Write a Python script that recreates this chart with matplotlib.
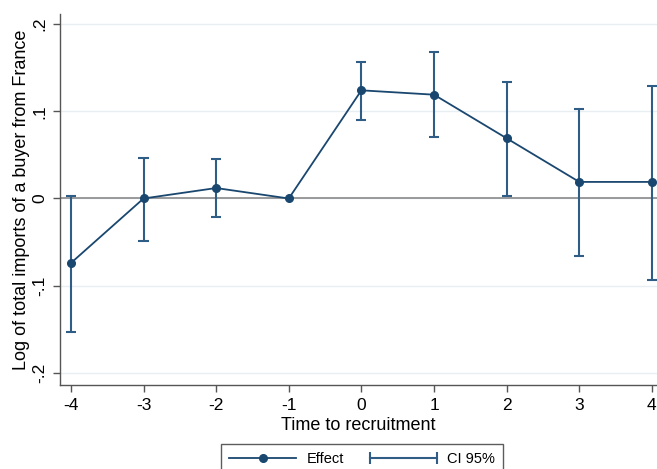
import numpy as np
import matplotlib
matplotlib.use('Agg')
import matplotlib.pyplot as plt
from matplotlib.lines import Line2D
from matplotlib.legend_handler import HandlerLine2D

plt.rcParams['font.family'] = ['Liberation Sans', 'DejaVu Sans']

# event-study estimates
periods = [-4, -3, -2, -1, 0, 1, 2, 3, 4]
effect = [-0.074, 0.0, 0.012, 0.0, 0.124, 0.119, 0.069, 0.019, 0.019]
ci_low = [-0.153, -0.049, -0.021, 0.0, 0.090, 0.070, 0.003, -0.066, -0.093]
ci_high = [0.003, 0.046, 0.045, 0.0, 0.156, 0.168, 0.134, 0.103, 0.129]
yticks = [-0.2, -0.1, 0, 0.1, 0.2]
ytick_labels = ['-.2', '-.1', '0', '.1', '.2']

navy = '#1a476f'
ci_col = '#2f5d86'

fig = plt.figure(figsize=(6.57, 4.69), dpi=100)
fig.patch.set_facecolor('white')
ax = fig.add_axes([60/657, 1-385/469, 1-60/657, (385-14)/469])

for y in yticks:
    ax.axhline(y, color='#e8eff2', lw=1.0, zorder=0)
ax.axhline(0, color='#8a8a8a', lw=1.2, zorder=1)

idx = [i for i in range(len(periods)) if ci_high[i] != ci_low[i]]
x_ci = np.array(periods)[idx]
lo = np.array(ci_low)[idx]
hi = np.array(ci_high)[idx]
ax.vlines(x_ci, lo, hi, color=ci_col, lw=1.5, zorder=2)
ax.hlines(lo, x_ci-0.07, x_ci+0.07, color=ci_col, lw=1.5, zorder=2)
ax.hlines(hi, x_ci-0.07, x_ci+0.07, color=ci_col, lw=1.5, zorder=2)

ax.plot(periods, effect, color=navy, lw=1.3, marker='o', markersize=5.5, zorder=3)

ax.set_xlim(-4.15, 4.07)
ax.set_ylim(-0.2138, 0.2115)
ax.set_xticks(periods)
ax.set_xticklabels([str(p) for p in periods])
ax.set_yticks(yticks)
ax.set_yticklabels(ytick_labels, rotation=90, va='center')

for side in ['top', 'right']:
    ax.spines[side].set_visible(False)
for side in ['left', 'bottom']:
    ax.spines[side].set_color('#555555')
    ax.spines[side].set_linewidth(1.0)
ax.tick_params(axis='both', direction='out', length=5, width=1, color='#555555', labelsize=12.5, pad=4)

ax.set_xlabel('Time to recruitment', fontsize=13, labelpad=3)
ax.set_ylabel('Log of total imports of a buyer from France', fontsize=13, labelpad=2)

h_eff = Line2D([], [], color=navy, lw=1.3, marker='o', markersize=5.5)
h_ci = Line2D([], [], color=ci_col, lw=1.5, marker='|', markersize=9, markeredgewidth=1.5)
leg = fig.legend([h_eff, h_ci], ['Effect', 'CI 95%'], ncol=2, loc='upper center',
                 bbox_to_anchor=(362/657, 1-437/469), frameon=True, fancybox=False,
                 edgecolor='#333333', fontsize=10.5, handlelength=4.6, columnspacing=1.8,
                 borderpad=0.55, handletextpad=0.7,
                 handler_map={h_ci: HandlerLine2D(numpoints=2, marker_pad=0)})
leg.get_frame().set_linewidth(1.0)

fig.savefig('out.png', dpi=100)
